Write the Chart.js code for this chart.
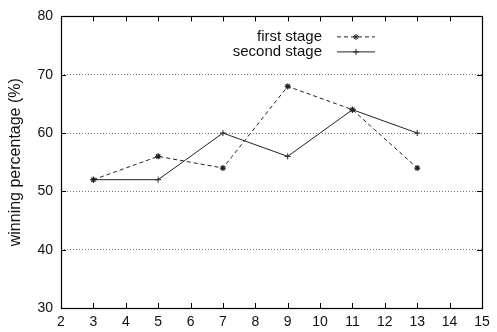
<!DOCTYPE html>
<html><head><meta charset="utf-8">
<script src="https://cdn.jsdelivr.net/npm/chart.js@4.4.0/dist/chart.umd.min.js"></script>
<style>html,body{margin:0;padding:0;background:#fff}#wrap{width:497px;height:332px}</style>
</head><body><div id="wrap"><canvas id="c" width="497" height="332"></canvas></div>
<script>
const xValues = [3, 5, 7, 9, 11, 13];
const firstStage = [52, 56, 54, 68, 64, 54];
const secondStage = [52, 52, 60, 56, 64, 60];
const seriesNames = ['first stage', 'second stage'];
const xTicks = [2,3,4,5,6,7,8,9,10,11,12,13,14,15];
const yTicks = [30,40,50,60,70,80];
const yTitle = 'winning percentage (%)';

const FONT = '"Liberation Sans", Arial, sans-serif';

const framePlugin = {
  id: 'frame',
  afterDatasetsDraw(chart) {
    const {ctx, chartArea: a, scales: {x, y}} = chart;
    ctx.save();
    ctx.strokeStyle = '#000';
    ctx.lineWidth = 1;
    ctx.setLineDash([]);
    ctx.beginPath();
    xTicks.forEach(v => {
      const px = Math.round(x.getPixelForValue(v)) + 0.5;
      ctx.moveTo(px, a.bottom); ctx.lineTo(px, a.bottom - 5);
      ctx.moveTo(px, a.top); ctx.lineTo(px, a.top + 5);
    });
    yTicks.forEach(v => {
      const py = Math.round(y.getPixelForValue(v)) + 0.5;
      ctx.moveTo(a.left, py); ctx.lineTo(a.left + 5, py);
      ctx.moveTo(a.right, py); ctx.lineTo(a.right - 5, py);
    });
    ctx.stroke();
    ctx.lineWidth = 1.2;
    ctx.strokeRect(Math.round(a.left)+0.5, Math.round(a.top)+0.5, Math.round(a.right-a.left), Math.round(a.bottom-a.top));
    // legend
    ctx.font = '15px ' + FONT;
    ctx.fillStyle = '#111';
    ctx.textAlign = 'right';
    ctx.textBaseline = 'middle';
    const textRight = a.right - 160;
    const lx0 = a.right - 145, lx1 = a.right - 107;
    const rows = [a.top + 20, a.top + 35];
    chart.data.datasets.forEach((ds, i) => {
      const ry = rows[i];
      ctx.fillText(ds.label, textRight, ry);
      ctx.beginPath();
      ctx.strokeStyle = '#222';
      ctx.lineWidth = 1;
      ctx.setLineDash(ds.borderDash || []);
      ctx.moveTo(lx0, ry + 0.5); ctx.lineTo(lx1, ry + 0.5);
      ctx.stroke();
      ctx.setLineDash([]);
      Chart.helpers.drawPoint(ctx, {pointStyle: ds.pointStyle, radius: ds.pointRadius, borderWidth: 1}, (lx0+lx1)/2, ry + 0.5);
    });
    ctx.restore();
  }
};

const toPts = (ys) => xValues.map((v, i) => ({x: v, y: ys[i]}));

new Chart(document.getElementById('c'), {
  type: 'line',
  data: {
    datasets: [
      {label: seriesNames[0], data: toPts(firstStage), borderColor: '#222', backgroundColor: '#222',
       borderWidth: 1, borderDash: [4, 3], pointStyle: 'star', pointRadius: 3, pointBorderWidth: 1.2, pointBorderColor: '#222', fill: false, tension: 0},
      {label: seriesNames[1], data: toPts(secondStage), borderColor: '#222', backgroundColor: '#222',
       borderWidth: 1, pointStyle: 'cross', pointRadius: 3, pointBorderWidth: 1, pointBorderColor: '#222', fill: false, tension: 0}
    ]
  },
  options: {
    responsive: false,
    animation: false,
    layout: {padding: {left: 0, top: 12, right: 15, bottom: 0}},
    plugins: {legend: {display: false}, tooltip: {enabled: false}},
    scales: {
      x: {
        type: 'linear', min: 2, max: 15,
        afterBuildTicks: s => { s.ticks = xTicks.map(v => ({value: v})); },
        afterFit: s => { s.height = 24; },
        grid: {display: false, drawTicks: false},
        border: {display: false},
        ticks: {color: '#111', font: {family: FONT, size: 14}, padding: 6, maxRotation: 0, autoSkip: false}
      },
      y: {
        min: 30, max: 80,
        afterBuildTicks: s => { s.ticks = yTicks.map(v => ({value: v})); },
        afterFit: s => { s.width = 61; },
        grid: {color: '#777', lineWidth: 1, borderDash: [1, 2], drawTicks: false,
               tickBorderDash: [1,2]},
        border: {display: false, dash: [1, 2]},
        ticks: {color: '#111', font: {family: FONT, size: 14}, padding: 8},
        title: {display: true, text: yTitle, color: '#111', font: {family: FONT, size: 16}, padding: {top: 6, bottom: 0}}
      }
    }
  },
  plugins: [framePlugin]
});
</script></body></html>
